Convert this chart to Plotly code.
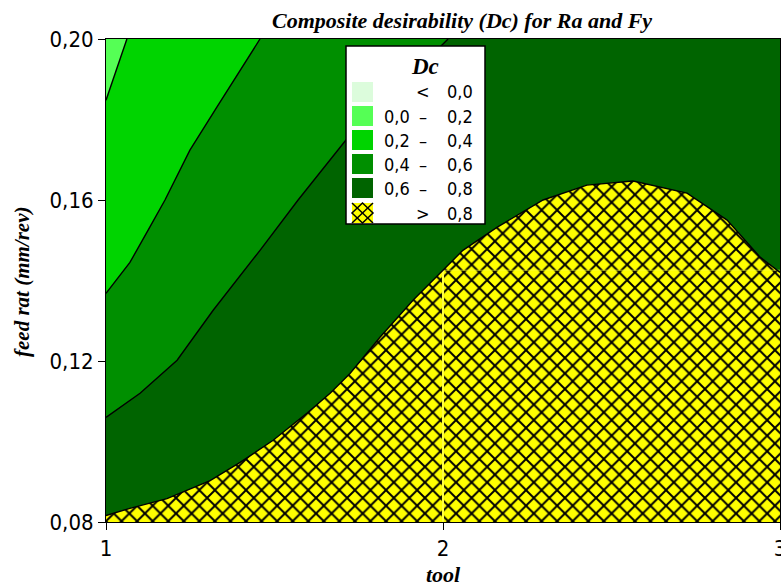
import numpy as np
import plotly.graph_objects as go

# ---------------- data ----------------
x_range = [1, 3]
y_range = [0.08, 0.20]
x_ticks = [1, 2, 3]
x_tick_labels = ['1', '2', '3']
y_ticks = [0.08, 0.12, 0.16, 0.20]
y_tick_labels = ['0,08', '0,12', '0,16', '0,20']

# contour lines of composite desirability
dc02_x = [1.062, 1.000]
dc02_y = [0.2000, 0.1848]

dc04_x = [1.457, 1.398, 1.329, 1.249, 1.205, 1.175, 1.125, 1.071, 1.000]
dc04_y = [0.2000, 0.1923, 0.1831, 0.1724, 0.1649, 0.1600, 0.1525, 0.1445, 0.1368]

dc06_x = [2.015, 1.712, 1.570, 1.457, 1.318, 1.211, 1.101, 1.000]
dc06_y = [0.2000, 0.1749, 0.1600, 0.1475, 0.1326, 0.1202, 0.1120, 0.1060]

dc08_x = [1.000, 1.071, 1.181, 1.309, 1.398, 1.496, 1.596, 1.665, 1.724, 1.813,
          1.911, 1.991, 2.059, 2.160, 2.297, 2.427, 2.564, 2.724, 2.843, 2.941, 3.000]
dc08_y = [0.0816, 0.0834, 0.0858, 0.0903, 0.0948, 0.1003, 0.1070, 0.1120, 0.1169, 0.1259,
          0.1351, 0.1418, 0.1475, 0.1532, 0.1600, 0.1637, 0.1647, 0.1617, 0.1550, 0.1458, 0.1420]

legend_title = 'Dc'
legend_lo = ['', '0,0', '0,2', '0,4', '0,6', '']
legend_op = ['<', '–', '–', '–', '–', '>']
legend_hi = ['0,0', '0,2', '0,4', '0,6', '0,8', '0,8']
legend_colors = ['#dcfcdc', '#55ff55', '#00d400', '#008f00', '#006400', '#ffff00']

# ---------------- figure ----------------
SANS = 'DejaVu Sans Condensed, DejaVu Sans'
SERIF = 'Liberation Serif'
L, T, W, H = 106, 39, 674, 483


def P(px, py):
    return (px - L) / W, (T + H - py) / H


fig = go.Figure()

corner_x, corner_y = x_range[0], y_range[1]


def region(xs, ys, color, pattern=None):
    kw = dict(x=xs, y=ys, mode='lines', fill='toself', fillcolor=color,
              line=dict(width=0, color=color), hoverinfo='skip', showlegend=False)
    if pattern:
        kw['fillpattern'] = pattern
    fig.add_trace(go.Scatter(**kw))


region(dc06_x + [corner_x], dc06_y + [corner_y], legend_colors[3])
region(dc04_x + [corner_x], dc04_y + [corner_y], legend_colors[2])
region(dc02_x + [corner_x], dc02_y + [corner_y], legend_colors[1])
region(dc08_x + [x_range[1], x_range[0]], dc08_y + [y_range[0], y_range[0]], '#ffff00',
       pattern=dict(shape='x', fgcolor='black', bgcolor='#ffff00', size=11, solidity=0.32,
                    fillmode='replace'))

# patch seams visible in the hatched area
y_seam = float(np.interp(2, dc08_x, dc08_y))
fig.add_trace(go.Scatter(x=[2, 2], y=[y_range[0], y_seam], mode='lines',
                         line=dict(color='#ffff40', width=2), hoverinfo='skip', showlegend=False))
fig.add_trace(go.Scatter(x=[2, x_range[1]], y=[y_seam, y_seam], mode='lines',
                         line=dict(color='rgba(255,255,60,0.6)', width=1), hoverinfo='skip', showlegend=False))

for xs, ys in [(dc02_x, dc02_y), (dc04_x, dc04_y), (dc06_x, dc06_y), (dc08_x, dc08_y)]:
    fig.add_trace(go.Scatter(x=xs, y=ys, mode='lines', line=dict(color='black', width=1.4),
                             hoverinfo='skip', showlegend=False))

# ---------------- manual legend ----------------
shapes = []
annotations = []
x0, y0 = P(346, 46)
x1, y1 = P(485, 224)
shapes.append(dict(type='rect', xref='paper', yref='paper', x0=x0, y0=y0, x1=x1, y1=y1,
                   fillcolor='white', line=dict(color='black', width=1.5), layer='above'))
ax, ay = P(425, 66)
annotations.append(dict(xref='paper', yref='paper', x=ax, y=ay, text='<b><i>Dc</i></b>',
                        showarrow=False, font=dict(family=SERIF, size=23, color='black'),
                        xanchor='center', yanchor='middle'))
row_tops = [82, 106, 130, 154, 178, 203]
for i, top in enumerate(row_tops):
    sx0, sy0 = P(352, top)
    sx1, sy1 = P(373, top + 20)
    shapes.append(dict(type='rect', xref='paper', yref='paper', x0=sx0, y0=sy1, x1=sx1, y1=sy0,
                       fillcolor=legend_colors[i], line=dict(width=0), layer='above'))
    if i == len(row_tops) - 1:
        pts = [(352, top), (373, top + 20)], [(352, top + 20), (373, top)]
        for a, b in pts:
            pa, pb = P(*a), P(*b)
            shapes.append(dict(type='line', xref='paper', yref='paper', x0=pa[0], y0=pa[1],
                               x1=pb[0], y1=pb[1], line=dict(color='black', width=1.5), layer='above'))
        dia = [(362.5, top), (373, top + 10), (362.5, top + 20), (352, top + 10)]
        dp = [P(*q) for q in dia]
        path = 'M' + ' L'.join(f'{q[0]:.5f},{q[1]:.5f}' for q in dp) + ' Z'
        shapes.append(dict(type='path', xref='paper', yref='paper', path=path,
                           line=dict(color='black', width=1.5), layer='above'))
    cy = top + 10
    for txt, px_ in [(legend_lo[i], 397), (legend_op[i], 423), (legend_hi[i], 460)]:
        if txt:
            tx, ty = P(px_, cy)
            annotations.append(dict(xref='paper', yref='paper', x=tx, y=ty, text=txt,
                                    showarrow=False, font=dict(family=SANS, size=18, color='black'),
                                    xanchor='center', yanchor='middle'))

# titles
tx, ty = P(462, 21)
annotations.append(dict(xref='paper', yref='paper', x=tx, y=ty,
                        text='<b><i>Composite desirability (Dc) for Ra and Fy</i></b>',
                        showarrow=False, font=dict(family=SERIF, size=22, color='black'),
                        xanchor='center', yanchor='middle'))
tx, ty = P(443, 574)
annotations.append(dict(xref='paper', yref='paper', x=tx, y=ty, text='<b><i>tool</i></b>',
                        showarrow=False, font=dict(family=SERIF, size=22, color='black'),
                        xanchor='center', yanchor='middle'))
tx, ty = P(22, 282)
annotations.append(dict(xref='paper', yref='paper', x=tx, y=ty, text='<b><i>feed rat (mm/rev)</i></b>',
                        showarrow=False, font=dict(family=SERIF, size=21, color='black'),
                        textangle=-90, xanchor='center', yanchor='middle'))

axis_common = dict(showgrid=False, zeroline=False, showline=True, linecolor='black', linewidth=1,
                   mirror=True, ticks='outside', ticklen=7, tickcolor='black', tickwidth=1,
                   ticklabeloverflow='allow', automargin=False,
                   tickfont=dict(family=SANS, size=22, color='black'))

fig.update_layout(
    width=781, height=587,
    margin=dict(l=L, r=781 - L - W, t=T, b=587 - T - H, pad=0, autoexpand=False),
    paper_bgcolor='white', plot_bgcolor=legend_colors[4],
    xaxis=dict(range=x_range, tickvals=x_ticks, ticktext=x_tick_labels, **axis_common),
    yaxis=dict(range=y_range, tickvals=y_ticks, ticktext=y_tick_labels, **axis_common),
    shapes=shapes, annotations=annotations, showlegend=False,
)

fig.write_html('out.html')
